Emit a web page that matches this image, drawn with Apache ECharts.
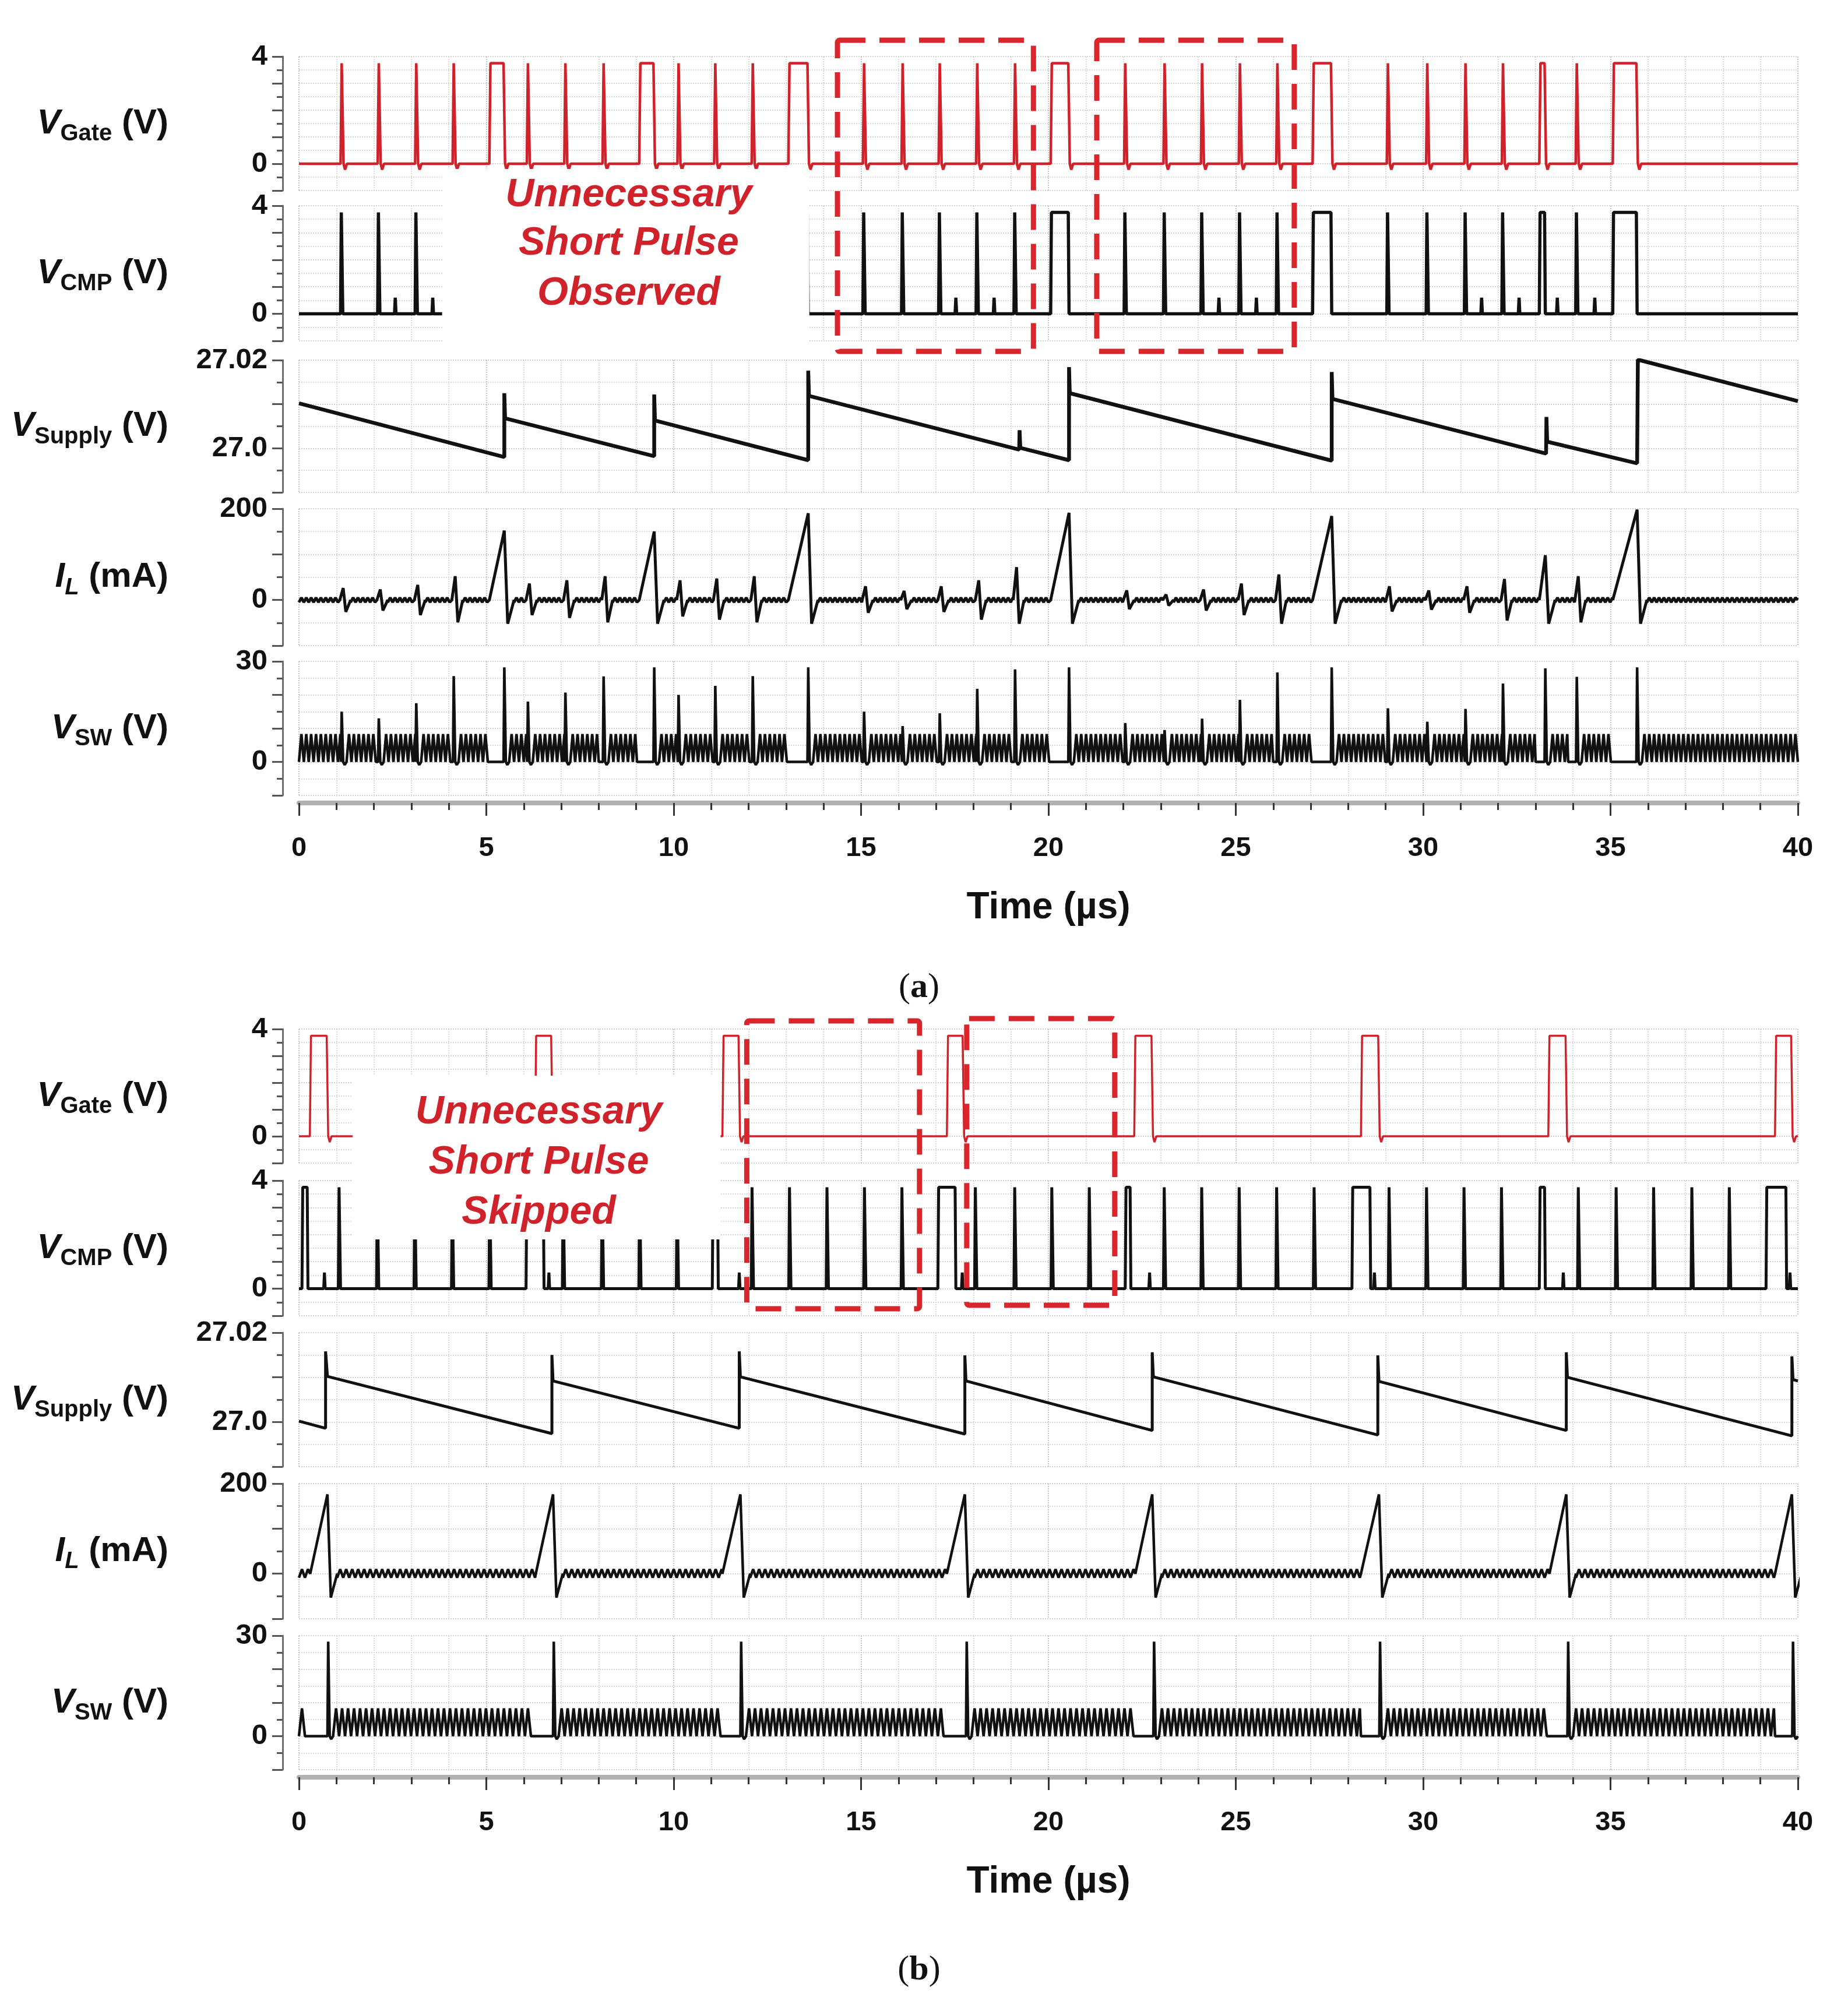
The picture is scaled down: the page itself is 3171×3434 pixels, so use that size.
<!DOCTYPE html>
<html>
<head>
<meta charset="utf-8">
<title>Short pulse observed / skipped</title>
<script src="https://cdn.jsdelivr.net/npm/echarts@6.0.0/dist/echarts.min.js"></script>
<style>
  html, body { margin: 0; padding: 0; background: #fff; }
  #main { width: 3171px; height: 3434px; }
</style>
</head>
<body>
<div id="main"></div>
<script>
// ---- axes ----
var timeRange = [0, 40];
var timeTickLabels = ['0', '5', '10', '15', '20', '25', '30', '35', '40'];
var gateTickLabels = [[0, '0'], [4, '4']];
var cmpTickLabels = [[0, '0'], [4, '4']];
var supplyTickLabels = [[27.0, '27.0'], [27.02, '27.02']];
var ilTickLabels = [[0, '0'], [200, '200']];
var swTickLabels = [[0, '0'], [30, '30']];

// ---- levels ----
var gateHigh = 3.75;
var cmpHigh = 3.75;
var cmpSmallHigh = 0.6;
var ripplePeriodA = 0.13;
var ripplePeriodB = 0.16;
var ilRippleA = [-5, 5];
var swRippleA = [0, 8.3];
var ilRippleB = [-9, 10];
var swRippleB = [0, 8.3];
var ilTroughA = -52;
var ilTroughB = -53;

// ---- (a) short pulse observed ----
var gateNarrowA = [1.14, 2.13, 3.13, 4.13, 6.11, 7.11, 8.13, 10.13, 11.11, 12.11, 15.08, 16.11, 17.10, 18.10, 19.11,
    22.05, 23.10, 24.10, 25.11, 26.11, 29.06, 30.11, 31.13, 32.13, 34.10];
var gateWideA = [[5.08, 5.48], [9.08, 9.48], [13.06, 13.59], [20.06, 20.55], [27.05, 27.56], [33.10, 33.26], [35.06, 35.71]];
var cmpSmallA = [2.57, 3.57, 17.53, 18.55, 24.55, 25.55, 31.56, 32.56, 33.58, 34.58];
var supplyA = [
    [0, 27.0102], [5.48, 26.9980], [5.48, 27.0125], [5.50, 27.0068],
    [9.48, 26.9982], [9.48, 27.0122], [9.50, 27.0063],
    [13.59, 26.9973], [13.59, 27.0176], [13.61, 27.0119],
    [19.22, 26.9997], [19.23, 27.0041], [19.25, 27.0001],
    [20.55, 26.9973], [20.55, 27.0184], [20.57, 27.0125],
    [27.56, 26.9972], [27.56, 27.0173], [27.58, 27.0112],
    [33.28, 26.9988], [33.29, 27.0071], [33.31, 27.0015],
    [35.71, 26.9966], [35.73, 27.0201], [40, 27.0107]
];
var ilBlipA = [[1.14, 26, -26], [2.13, 23, -23], [3.13, 33, -33], [4.13, 52, -49], [6.11, 36, -33], [7.11, 43, -39],
    [8.13, 52, -49], [10.13, 43, -36], [11.11, 47, -43], [12.11, 52, -49], [15.08, 30, -28], [16.11, 20, -20],
    [17.10, 30, -26], [18.10, 43, -43], [19.11, 72, -52], [22.05, 21, -20], [23.10, 12, -12], [24.10, 23, -23],
    [25.11, 36, -33], [26.11, 56, -52], [29.06, 30, -25], [30.11, 21, -21], [31.13, 30, -28], [32.13, 46, -45],
    [34.10, 52, -49]];
var ilRampA = [[5.08, 5.48, 152], [9.08, 9.48, 150], [13.06, 13.59, 190], [20.06, 20.55, 191], [27.05, 27.56, 184],
    [33.10, 33.26, 98], [35.06, 35.71, 198]];
var swSpikeA = [[1.14, 15], [2.13, 13], [3.13, 17.5], [4.13, 25.6], [5.48, 28.2], [6.11, 18], [7.11, 20.7], [8.13, 25.5],
    [9.48, 28.2], [10.13, 20], [11.11, 22.7], [12.11, 25.6], [13.59, 28.2], [15.08, 15], [16.11, 10.7], [17.10, 14.5],
    [18.10, 21.8], [19.11, 27.6], [20.55, 28.2], [22.05, 11.6], [23.10, 9.5], [24.10, 12.9], [25.11, 18.5],
    [26.11, 26.7], [27.56, 28.2], [29.06, 16], [30.11, 12], [31.13, 15.8], [32.13, 23.4], [33.26, 27.9],
    [34.10, 25.4], [35.71, 28.2]];
var swFlatA = [[4.05, 4.11], [5.05, 5.46], [8.0, 8.11], [9.02, 9.46], [12.03, 12.09], [13.02, 13.57], [19.03, 19.09],
    [20.08, 20.53], [26.0, 26.09], [27.06, 27.54], [33.0, 33.24], [33.87, 34.08], [35.03, 35.69]];

// ---- (b) short pulse skipped ----
var gateWideB = [[0.29, 0.76], [6.30, 6.75], [11.30, 11.75], [17.29, 17.73], [22.29, 22.77], [28.34, 28.82],
    [33.34, 33.82], [39.39, 39.84]];
var cmpNarrowB = [1.08, 2.10, 3.10, 4.10, 5.10, 7.06, 8.10, 9.10, 10.10, 12.10, 13.10, 14.10, 15.10, 16.10, 18.06,
    19.11, 20.10, 21.10, 23.10, 24.10, 25.10, 26.10, 27.10, 29.10, 30.10, 31.10, 32.10, 34.15, 35.16, 36.16,
    37.18, 38.18];
var cmpWideB = [[0.08, 0.24], [6.06, 6.54], [11.03, 11.19], [17.05, 17.53], [22.05, 22.20], [28.10, 28.60],
    [33.10, 33.26], [39.15, 39.70]];
var cmpSmallB = [0.68, 6.67, 11.75, 17.70, 22.70, 28.70, 33.74, 39.79];
var supplyB = [
    [0, 27.0002], [0.71, 26.9986], [0.71, 27.0158], [0.76, 27.0102],
    [6.75, 26.9974], [6.75, 27.0150], [6.78, 27.0092],
    [11.75, 26.9986], [11.75, 27.0158], [11.78, 27.0101],
    [17.77, 26.9973], [17.77, 27.0149], [17.80, 27.0092],
    [22.77, 26.9981], [22.77, 27.0156], [22.80, 27.0101],
    [28.79, 26.9971], [28.79, 27.0149], [28.82, 27.0091],
    [33.82, 26.9981], [33.82, 27.0156], [33.85, 27.0100],
    [39.84, 26.9969], [39.84, 27.0147], [39.87, 27.0095], [40, 27.0092]
];
var ilRampB = [[0.30, 0.76, 176], [6.32, 6.78, 176], [11.30, 11.78, 176], [17.29, 17.77, 176], [22.32, 22.77, 176],
    [28.34, 28.82, 176], [33.37, 33.82, 176], [39.39, 39.84, 176]];
var swSpikeB = [[0.78, 28.2], [6.80, 28.2], [11.80, 28.2], [17.82, 28.2], [22.82, 28.2], [28.85, 28.2],
    [33.87, 28.2], [39.87, 28.2]];
var swFlatB = [[0.16, 0.76], [6.27, 6.78], [11.27, 11.78], [17.20, 17.80], [22.29, 22.80], [28.34, 28.83],
    [33.34, 33.85], [39.39, 39.85]];

// ---- annotations ----
var noteLinesA = ['Unnecessary', 'Short Pulse', 'Observed'];
var noteLinesB = ['Unnecessary', 'Short Pulse', 'Skipped'];
var maskSpanA = [3.82, 13.62];
var maskSpanB = [1.43, 11.25];
var noteCenterA = 8.8;
var noteCenterB = 6.4;
var dashSpansA = [[14.37, 19.6], [21.29, 26.56]];
var dashSpansB = [[11.95, 16.56], [17.82, 21.77]];

// ---------------------------------------------------------------
function gateShape(s, e, h) {
    return [[s, 0], [s + 0.03, h], [e - 0.02, h], [e + 0.02, 0], [e + 0.06, -0.22], [e + 0.11, 0]];
}
function cmpShape(s, e, h) {
    return [[s, 0], [s + 0.02, h], [e - 0.02, h], [e, 0]];
}
function smallShape(t, h) {
    return [[t - 0.02, 0], [t, h], [t + 0.02, 0]];
}
function ilBlip(t, up, down) {
    return [[t - 0.05, 0], [t + 0.04, up], [t + 0.11, down], [t + 0.24, 0]];
}
function ilRamp(s, e, peak, trough) {
    return [[s, 0], [e, peak], [e + 0.09, trough], [e + 0.26, 0]];
}
function swSpike(t, h) {
    return [[t - 0.02, 0], [t, h], [t + 0.04, 0], [t + 0.08, -0.9], [t + 0.13, 0]];
}
function flatShape(s, e) {
    return [[s, 0], [e, 0]];
}

function fillBase(out, a, b, levels, period) {
    if (!levels) {
        out.push([a, 0], [b, 0]);
        return;
    }
    var half = period / 2, hi = false;
    for (var t = a; t < b - 1e-6; t += half) {
        out.push([t, hi ? levels[1] : levels[0]]);
        hi = !hi;
    }
    out.push([b, 0]);
}

// joins the read events in time order, with the baseline (flat or ringing) between them
function buildTrace(blocks, levels, period) {
    blocks.sort(function(a, b) { return a[0][0] - b[0][0]; });
    var out = [], cursor = timeRange[0];
    blocks.forEach(function(b) {
        if (b[0][0] > cursor) fillBase(out, cursor, b[0][0], levels, period);
        b.forEach(function(p) { if (p[0] >= cursor) out.push(p); });
        cursor = Math.max(cursor, b[b.length - 1][0]);
    });
    if (cursor < timeRange[1]) fillBase(out, cursor, timeRange[1], levels, period);
    return out;
}

function narrow(list, h, fn) {
    return list.map(function(t) { return fn(t - 0.03, t + 0.03, h); });
}
function wide(list, h, fn) {
    return list.map(function(w) { return fn(w[0], w[1], h); });
}
function smalls(list) {
    return list.map(function(t) { return smallShape(t, cmpSmallHigh); });
}

var traceA = [
    buildTrace(narrow(gateNarrowA, gateHigh, gateShape).concat(wide(gateWideA, gateHigh, gateShape))),
    buildTrace(narrow(gateNarrowA, cmpHigh, cmpShape).concat(wide(gateWideA, cmpHigh, cmpShape), smalls(cmpSmallA))),
    supplyA,
    buildTrace(ilBlipA.map(function(b) { return ilBlip(b[0], b[1], b[2]); })
        .concat(ilRampA.map(function(r) { return ilRamp(r[0], r[1], r[2], ilTroughA); })), ilRippleA, ripplePeriodA),
    buildTrace(swSpikeA.map(function(s) { return swSpike(s[0], s[1]); })
        .concat(swFlatA.map(function(f) { return flatShape(f[0], f[1]); })), swRippleA, ripplePeriodA)
];
var traceB = [
    buildTrace(wide(gateWideB, gateHigh, gateShape)),
    buildTrace(narrow(cmpNarrowB, cmpHigh, cmpShape).concat(wide(cmpWideB, cmpHigh, cmpShape), smalls(cmpSmallB))),
    supplyB,
    buildTrace(ilRampB.map(function(r) { return ilRamp(r[0], r[1], r[2], ilTroughB); }), ilRippleB, ripplePeriodB),
    buildTrace(swSpikeB.map(function(s) { return swSpike(s[0], s[1]); })
        .concat(swFlatB.map(function(f) { return flatShape(f[0], f[1]); })), swRippleB, ripplePeriodB)
];

// ---------------------------------------------------------------
var FONT = '"Liberation Sans", Arial, sans-serif';
var RED = '#d0222a';
var gridTops = [97, 353, 618, 873, 1135, 1766, 2026, 2287, 2546, 2807];
var gridHeights = [230, 232, 227, 235, 230, 230, 232, 230, 232, 230];

var rows = [
    { min: -1, max: 4, interval: 1, labels: gateTickLabels, name: ['V', 'Gate', '(V)'] },
    { min: -1, max: 4, interval: 1, labels: cmpTickLabels, name: ['V', 'CMP', '(V)'] },
    { min: 26.99, max: 27.02, interval: 0.01, labels: supplyTickLabels, name: ['V', 'Supply', '(V)'] },
    { min: -100, max: 200, interval: 100, labels: ilTickLabels, name: ['I', 'L', '(mA)'], italicSub: true },
    { min: -10, max: 30, interval: 10, labels: swTickLabels, name: ['V', 'SW', '(V)'] }
];
var widthsA = [4.5, 5.5, 6.5, 5, 4.5];
var widthsB = [3.5, 5, 5, 4.5, 4.5];

function labelFormatter(list) {
    return function(v) {
        for (var i = 0; i < list.length; i++) {
            if (Math.abs(v - list[i][0]) < 1e-6) return list[i][1];
        }
        return '';
    };
}

var nameRich = {
    i: { fontFamily: FONT, fontSize: 60, fontWeight: 'bold', fontStyle: 'italic', color: '#111', lineHeight: 76 },
    s: { fontFamily: FONT, fontSize: 40, fontWeight: 'bold', color: '#111', verticalAlign: 'bottom' },
    si: { fontFamily: FONT, fontSize: 40, fontWeight: 'bold', fontStyle: 'italic', color: '#111', verticalAlign: 'bottom' },
    n: { fontFamily: FONT, fontSize: 60, fontWeight: 'bold', color: '#111', lineHeight: 76 }
};

var grids = [], xAxes = [], yAxes = [], series = [];
for (var g = 0; g < 10; g++) {
    var row = rows[g % 5];
    var isBottom = g % 5 === 4;
    var inA = g < 5;
    grids.push({ left: 513, right: 86, top: gridTops[g], height: gridHeights[g], containLabel: false });
    xAxes.push({
        gridIndex: g, type: 'value', min: timeRange[0], max: timeRange[1], interval: 5,
        offset: isBottom ? 13 : 0,
        axisLine: { show: isBottom, onZero: false, lineStyle: { color: '#b0b0b0', width: 8 } },
        axisTick: { show: isBottom, length: 22, lineStyle: { color: '#333', width: 3 } },
        minorTick: { show: isBottom, splitNumber: 5, length: 12, lineStyle: { color: '#333', width: 3 } },
        axisLabel: {
            show: isBottom, margin: 55, fontSize: 47, fontWeight: 'bold', fontFamily: FONT, color: '#111',
            formatter: function(v) { return timeTickLabels[Math.round(v / 5)] || ''; }
        },
        splitLine: { show: true, lineStyle: { color: '#c4c4c4', type: 'dotted', width: 2 } },
        minorSplitLine: { show: true, lineStyle: { color: '#dadada', type: 'dotted', width: 2 } },
        name: isBottom ? 'Time (µs)' : '',
        nameLocation: 'middle', nameGap: 148,
        nameTextStyle: { fontSize: 64, fontWeight: 'bold', fontFamily: FONT, color: '#111' }
    });
    var subKey = row.italicSub ? 'si' : 's';
    yAxes.push({
        gridIndex: g, type: 'value', min: row.min, max: row.max, interval: row.interval,
        offset: 28,
        axisLine: { show: true, onZero: false, lineStyle: { color: '#6f6f6f', width: 3 } },
        axisTick: { show: true, length: 18, lineStyle: { color: '#555', width: 3 } },
        minorTick: { show: true, splitNumber: 2, length: 10, lineStyle: { color: '#555', width: 3 } },
        axisLabel: {
            margin: 26, fontSize: 49, fontWeight: 'bold', fontFamily: FONT, color: '#111',
            formatter: labelFormatter(row.labels)
        },
        splitLine: { show: true, lineStyle: { color: '#cfcfcf', type: 'dotted', width: 2 } },
        minorSplitLine: { show: true, lineStyle: { color: '#d8d8d8', type: 'dotted', width: 2 } },
        name: '{i|' + row.name[0] + '}{' + subKey + '|' + row.name[1] + '}{n| ' + row.name[2] + '}',
        nameLocation: 'middle', nameRotate: 0, nameGap: 196,
        nameTextStyle: { align: 'right', verticalAlign: 'middle', rich: nameRich }
    });
    series.push({
        type: 'line', xAxisIndex: g, yAxisIndex: g,
        data: inA ? traceA[g] : traceB[g - 5],
        showSymbol: false, symbol: 'none', silent: true, clip: true,
        lineStyle: { color: g % 5 === 0 ? RED : '#111', width: inA ? widthsA[g] : widthsB[g - 5] },
        z: 3
    });
}

var chart = echarts.init(document.getElementById('main'), null, { renderer: 'canvas' });
chart.setOption({
    backgroundColor: '#fff',
    animation: false,
    grid: grids,
    xAxis: xAxes,
    yAxis: yAxes,
    series: series
});

function px(v, axis) {
    return chart.convertToPixel({ xAxisIndex: axis }, v);
}

function noteGraphics(span, center, lines, axis, top, bottom, lineYs) {
    var x0 = px(span[0], axis), x1 = px(span[1], axis), cx = px(center, axis);
    var els = [{
        type: 'rect', z: 50,
        shape: { x: x0, y: top, width: x1 - x0, height: bottom - top },
        style: { fill: '#fff' }
    }];
    lines.forEach(function(t, i) {
        els.push({
            type: 'text', z: 51,
            style: {
                text: t, x: cx, y: lineYs[i], align: 'center', verticalAlign: 'middle',
                fontFamily: FONT, fontSize: 68, fontWeight: 'bold', fontStyle: 'italic', fill: RED
            }
        });
    });
    return els;
}

function dashGraphics(spans, axis, tops, bottoms) {
    return spans.map(function(s, i) {
        var x0 = px(s[0], axis), x1 = px(s[1], axis);
        return {
            type: 'rect', z: 52,
            shape: { x: x0, y: tops[i], width: x1 - x0, height: bottoms[i] - tops[i], r: 4 },
            style: { fill: 'none', stroke: '#d9262c', lineWidth: 9, lineDash: [44, 24] }
        };
    });
}

function panelLabel(letter, y) {
    return {
        type: 'text', z: 52,
        style: {
            text: '{p|(}{b|' + letter + '}{p|)}', x: 1577, y: y, align: 'center', verticalAlign: 'middle',
            rich: {
                p: { fontFamily: '"Liberation Serif", "Times New Roman", serif', fontSize: 60, fill: '#111' },
                b: { fontFamily: '"Liberation Serif", "Times New Roman", serif', fontSize: 60, fontWeight: 'bold', fill: '#111' }
            }
        }
    };
}

var graphics = []
    .concat(noteGraphics(maskSpanA, noteCenterA, noteLinesA, 0, 290, 588, [335, 418, 504]))
    .concat(noteGraphics(maskSpanB, noteCenterB, noteLinesB, 5, 1846, 2127, [1909, 1995, 2081]))
    .concat(dashGraphics(dashSpansA, 0, [69, 69], [603, 603]))
    .concat(dashGraphics(dashSpansB, 5, [1752, 1748], [2246, 2240]))
    .concat([panelLabel('a', 1695), panelLabel('b', 3381)]);

chart.setOption({ graphic: graphics });
</script>
</body>
</html>
